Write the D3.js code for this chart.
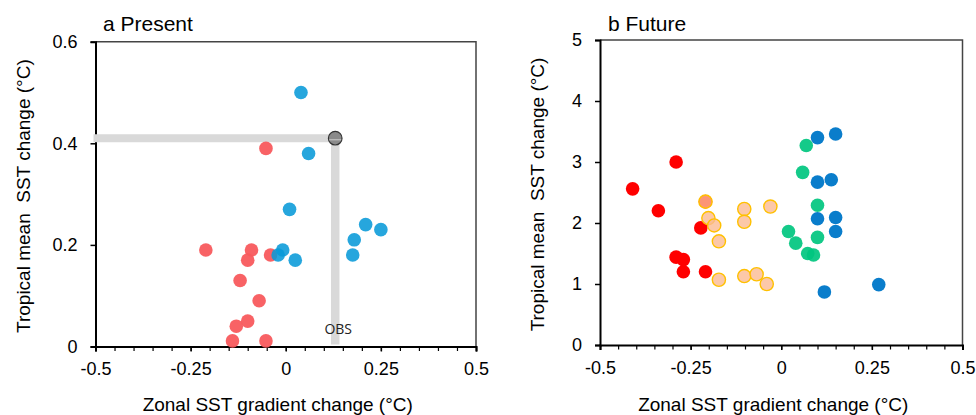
<!DOCTYPE html>
<html>
<head>
<meta charset="utf-8">
<script src="https://cdn.jsdelivr.net/npm/d3@7"></script>
<style>
  html, body { margin: 0; padding: 0; background: #fff; }
  text { font-family: "Liberation Sans", Arial, Helvetica, sans-serif; }
</style>
</head>
<body>
<div id="container"></div>
<script>
const width = 976, height = 415;

// Panel a — present-day ensemble members
const presentRedX = [-0.052, -0.21, -0.09, -0.10, -0.04, -0.12, -0.07, -0.10, -0.13, -0.14, -0.052];
const presentRedY = [0.39, 0.19, 0.19, 0.17, 0.18, 0.13, 0.09, 0.05, 0.04, 0.011, 0.011];
const presentBlueX = [0.04, 0.06, 0.01, 0.21, 0.25, 0.18, 0.176, 0.025, -0.008, -0.02];
const presentBlueY = [0.50, 0.38, 0.27, 0.24, 0.23, 0.21, 0.18, 0.17, 0.19, 0.18];
const obsX = 0.13, obsY = 0.41;

// Panel b — future projections
const futureRedX = [-0.41, -0.29, -0.339, -0.222, -0.29, -0.27, -0.27, -0.209, -0.209];
const futureRedY = [2.56, 3.0, 2.20, 1.92, 1.44, 1.40, 1.20, 1.20, 2.35];
const futurePeachX = [-0.209, -0.201, -0.185, -0.172, -0.172, -0.102, -0.102, -0.03, -0.102, -0.068, -0.04];
const futurePeachY = [2.35, 2.08, 1.96, 1.70, 1.07, 2.23, 2.02, 2.27, 1.13, 1.16, 1.0];
const futureGreenX = [0.069, 0.059, 0.10, 0.02, 0.04, 0.10, 0.073, 0.089];
const futureGreenY = [3.27, 2.83, 2.29, 1.86, 1.67, 1.765, 1.50, 1.475];
const futureBlueX = [0.10, 0.15, 0.10, 0.138, 0.10, 0.15, 0.15, 0.119, 0.269];
const futureBlueY = [3.40, 3.46, 2.67, 2.71, 2.07, 2.09, 1.86, 0.87, 0.99];

const xTicks = [-0.5, -0.25, 0, 0.25, 0.5];
const xMinorTicks = d3.range(-0.5, 0.5001, 0.05);
const presentYTicks = [0, 0.2, 0.4, 0.6];
const futureYTicks = [0, 1, 2, 3, 4, 5];

const svg = d3.select("#container").append("svg")
  .attr("width", width).attr("height", height);

const zip = (xs, ys) => xs.map((v, i) => ({ x: v, y: ys[i] }));

function panel(opt) {
  const x = d3.scaleLinear().domain([-0.5, 0.5]).range(opt.xr);
  const y = d3.scaleLinear().domain(opt.yd).range(opt.yr);
  const g = svg.append("g");

  // frame top/right
  g.append("path")
    .attr("d", `M${opt.xr[0]},${opt.yr[1]}H${opt.xr[1]}V${opt.yr[0]}`)
    .attr("fill", "none").attr("stroke", "#444").attr("stroke-width", 1.5);

  // minor x ticks
  const minor = g.append("g").attr("transform", `translate(0,${opt.yr[0]})`)
    .call(d3.axisBottom(x).tickValues(xMinorTicks).tickFormat("").tickSize(4.5));
  minor.select(".domain").remove();
  minor.selectAll("line").attr("stroke", "#000").attr("stroke-width", 1.2);

  const xa = g.append("g").attr("transform", `translate(0,${opt.yr[0]})`)
    .call(d3.axisBottom(x).tickValues(xTicks).tickFormat((d) => String(d)).tickSize(5).tickPadding(11));
  xa.select(".domain").attr("stroke", "#000").attr("stroke-width", 2);
  xa.selectAll("line").attr("stroke", "#000").attr("stroke-width", 1.5);
  xa.selectAll("text").attr("fill", "#000").style("font-size", "18px")
    .style("font-family", '"Liberation Sans", Arial, sans-serif');

  const ya = g.append("g").attr("transform", `translate(${opt.xr[0]},0)`)
    .call(d3.axisLeft(y).tickValues(opt.yt).tickFormat(opt.yf).tickSize(5).tickPadding(13));
  ya.select(".domain").attr("stroke", "#000").attr("stroke-width", 2);
  ya.selectAll("line").attr("stroke", "#000").attr("stroke-width", 1.5);
  ya.selectAll("text").attr("fill", "#000").style("font-size", "18px")
    .style("font-family", '"Liberation Sans", Arial, sans-serif');

  // titles
  g.append("text").attr("x", opt.titleX).attr("y", 31)
    .style("font-size", "21px").attr("fill", "#000").text(opt.title);
  g.append("text")
    .attr("x", (opt.xr[0] + opt.xr[1]) / 2 - 8).attr("y", 411)
    .attr("text-anchor", "middle").style("font-size", "19px").attr("fill", "#000")
    .text("Zonal SST gradient change (°C)");
  g.append("text")
    .attr("transform", `translate(${opt.ylabX},${(opt.yr[0] + opt.yr[1]) / 2 + 2}) rotate(-90)`)
    .attr("text-anchor", "middle").style("font-size", "19px").style("white-space", "pre")
    .attr("fill", "#000")
    .text("Tropical mean  SST change (°C)");

  return { g, x, y };
}

function dots(p, data, fill, opts = {}) {
  p.g.append("g").selectAll("circle").data(data).join("circle")
    .attr("cx", (d) => p.x(d.x)).attr("cy", (d) => p.y(d.y))
    .attr("r", opts.r || 6.8)
    .attr("fill", fill)
    .attr("fill-opacity", opts.op || 1)
    .attr("stroke", opts.stroke || "none")
    .attr("stroke-width", opts.sw || 0);
}

// ---- Panel a
const pa = panel({
  xr: [95.5, 476], yr: [346.5, 41.7], yd: [0, 0.6], yt: presentYTicks,
  yf: (d) => (d === 0 ? "0" : d.toFixed(1)),
  title: "a Present", titleX: 103, ylabX: 30,
});

// observation cross-hair bars
pa.g.append("line")
  .attr("x1", pa.x(-0.5) - 2).attr("x2", pa.x(obsX))
  .attr("y1", pa.y(obsY)).attr("y2", pa.y(obsY))
  .attr("stroke", "#d9d9d9").attr("stroke-width", 8);
pa.g.append("line")
  .attr("x1", pa.x(obsX)).attr("x2", pa.x(obsX))
  .attr("y1", pa.y(obsY)).attr("y2", pa.y(0) - 2)
  .attr("stroke", "#d9d9d9").attr("stroke-width", 8.5);

dots(pa, zip(presentRedX, presentRedY), "#f85a5d", { op: 0.95 });
dots(pa, zip(presentBlueX, presentBlueY), "#089ad8", { op: 0.88 });

pa.g.append("circle")
  .attr("cx", pa.x(obsX)).attr("cy", pa.y(obsY)).attr("r", 6.8)
  .attr("fill", "#8a8a8a").attr("stroke", "#333").attr("stroke-width", 1.2);
pa.g.append("line")
  .attr("x1", pa.x(obsX) - 6).attr("x2", pa.x(obsX) + 6)
  .attr("y1", pa.y(obsY) + 1.5).attr("y2", pa.y(obsY) + 1.5)
  .attr("stroke", "#bdbdbd").attr("stroke-width", 1.3);
pa.g.append("text")
  .attr("x", pa.x(obsX) + 3).attr("y", 334)
  .attr("text-anchor", "middle")
  .style("font-family", '"Open Sans", "DejaVu Sans", sans-serif')
  .style("font-size", "14px").attr("fill", "#222")
  .text("OBS");

// ---- Panel b
const pb = panel({
  xr: [600, 962.5], yr: [345, 40], yd: [0, 5], yt: futureYTicks,
  yf: (d) => String(d),
  title: "b Future", titleX: 608, ylabX: 544,
});

dots(pb, zip(futureRedX, futureRedY), "#ff0000");
dots(pb, zip(futurePeachX, futurePeachY), "#fbba92", { op: 0.8, stroke: "#ffc000", sw: 1.4, r: 6.6 });
dots(pb, zip(futureGreenX, futureGreenY), "#00c57f", { op: 0.92 });
dots(pb, zip(futureBlueX, futureBlueY), "#0a7dcb");
</script>
</body>
</html>
